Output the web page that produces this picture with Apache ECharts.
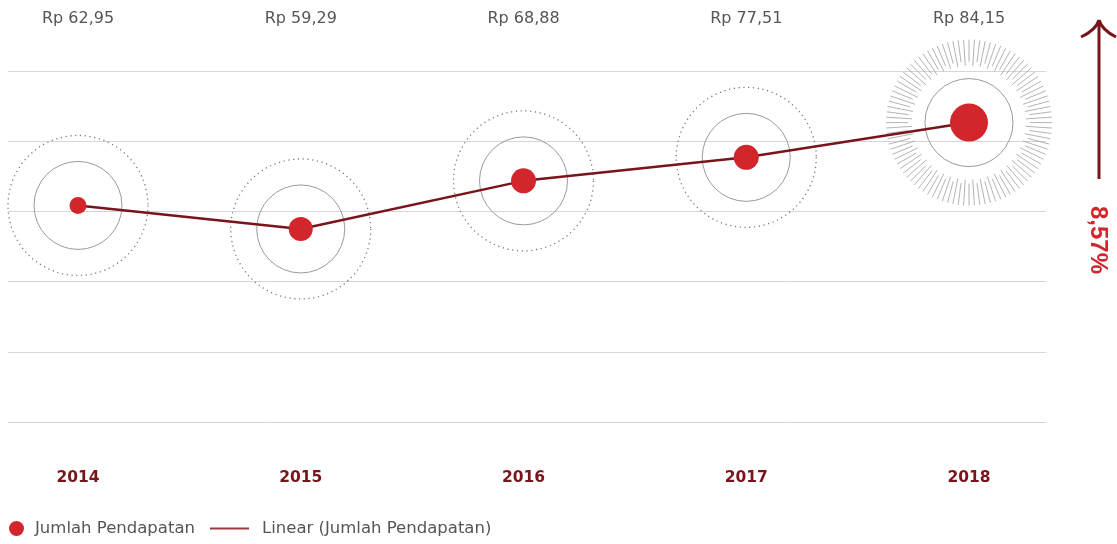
<!DOCTYPE html>
<html lang="id">

<head>
    <meta charset="UTF-8">
    <title>Jumlah Pendapatan</title>
    <style>
        html, body { margin: 0; padding: 0; background: #fff; }
        #main { width: 1117px; height: 544px; }
    </style>
</head>

<body>
    <div id="main"></div>

    <script src="https://cdn.jsdelivr.net/npm/echarts@6/dist/echarts.min.js"></script>
    <script>
        // data
        let years = ['2014', '2015', '2016', '2017', '2018'];
        let valueLabels = ['Rp 62,95', 'Rp 59,29', 'Rp 68,88', 'Rp 77,51', 'Rp 84,15'];
        // heights of the points as drawn (hidden 0-100 axis)
        let levels = [61.7, 55.0, 68.7, 75.4, 85.3];
        let dotSizes = [17, 24, 25, 25, 38];
        let growthLabel = '8,57%';

        let red = '#d3252c';
        let darkRed = '#7a141b';
        let textGray = '#555';

        let chart = echarts.init(document.getElementById('main'));

        // ring decoration around every point, sunburst on the last one
        function renderRings(params, api) {
            let idx = api.value(0);
            let c = api.coord([idx, api.value(1)]);
            let kids = [{
                type: 'circle',
                shape: { cx: c[0], cy: c[1], r: 44 },
                style: { fill: 'none', stroke: '#9a9a9a', lineWidth: 1 }
            }];
            if (idx < years.length - 1) {
                kids.push({
                    type: 'circle',
                    shape: { cx: c[0], cy: c[1], r: 70 },
                    style: { fill: 'none', stroke: '#777', lineWidth: 1.3, lineDash: [1.2, 3.6] }
                });
            } else {
                let n = 96;
                for (let k = 0; k < n; k++) {
                    let a = k / n * Math.PI * 2;
                    let r0 = k % 2 ? 57 : 61;
                    let r1 = 83;
                    kids.push({
                        type: 'line',
                        shape: {
                            x1: c[0] + Math.cos(a) * r0, y1: c[1] + Math.sin(a) * r0,
                            x2: c[0] + Math.cos(a) * r1, y2: c[1] + Math.sin(a) * r1
                        },
                        style: { stroke: '#a0a0a0', lineWidth: 0.8 }
                    });
                }
            }
            return { type: 'group', children: kids };
        }

        let option = {
            animation: false,
            grid: [
                { left: 8, right: 71, top: 71, bottom: 122, containLabel: false, outerBoundsMode: 'none' },
                { left: 78, right: 148, top: 71, bottom: 122, containLabel: false, outerBoundsMode: 'none' }
            ],
            xAxis: [
                { gridIndex: 0, type: 'value', min: 0, max: 1, show: false },
                {
                    gridIndex: 1, type: 'category', data: years, boundaryGap: false,
                    axisLine: { show: false }, axisTick: { show: false }, splitLine: { show: false },
                    axisLabel: {
                        margin: 48, color: darkRed, fontFamily: 'DejaVu Sans',
                        fontWeight: 'bold', fontSize: 15.5
                    }
                },
                {
                    gridIndex: 1, type: 'category', data: valueLabels, boundaryGap: false, position: 'top',
                    axisLine: { show: false }, axisTick: { show: false }, splitLine: { show: false },
                    axisLabel: { margin: 44, color: textGray, fontFamily: 'DejaVu Sans', fontSize: 16 }
                }
            ],
            yAxis: [
                {
                    gridIndex: 0, type: 'value', min: 0, max: 100, interval: 20,
                    axisLine: { show: false }, axisTick: { show: false }, axisLabel: { show: false },
                    splitLine: { lineStyle: { color: '#d6d6d6', width: 1 } }
                },
                { gridIndex: 1, type: 'value', min: 0, max: 100, show: false }
            ],
            legend: [
                {
                    data: [{ name: 'Jumlah Pendapatan', icon: 'circle' }],
                    left: 9, top: 520, padding: 0,
                    itemWidth: 15, itemHeight: 15,
                    textStyle: { color: textGray, fontFamily: 'DejaVu Sans', fontSize: 16.5, padding: [0, 0, 0, 6] }
                },
                {
                    data: [{ name: 'Linear (Jumlah Pendapatan)', icon: 'rect' }],
                    left: 210, top: 520, padding: 0,
                    itemWidth: 39, itemHeight: 2,
                    textStyle: { color: textGray, fontFamily: 'DejaVu Sans', fontSize: 16.5, padding: [0, 0, 0, 8] }
                }
            ],
            graphic: [
                // growth arrow on the right
                {
                    type: 'line', z: 10,
                    shape: { x1: 1099, y1: 21, x2: 1099, y2: 179 },
                    style: { stroke: darkRed, lineWidth: 3 }
                },
                {
                    type: 'bezierCurve', z: 10,
                    shape: { x1: 1081, y1: 37, cpx1: 1096, cpy1: 30, x2: 1099, y2: 20 },
                    style: { fill: 'none', stroke: darkRed, lineWidth: 3 }
                },
                {
                    type: 'bezierCurve', z: 10,
                    shape: { x1: 1116, y1: 37, cpx1: 1102, cpy1: 30, x2: 1099, y2: 20 },
                    style: { fill: 'none', stroke: darkRed, lineWidth: 3 }
                },
                {
                    type: 'text', z: 10,
                    x: 1098, y: 240, rotation: -Math.PI / 2,
                    style: {
                        text: growthLabel, fill: red, font: 'bold 24px "Liberation Sans"',
                        align: 'center', verticalAlign: 'middle'
                    }
                }
            ],
            series: [
                {
                    type: 'custom', name: 'rings', xAxisIndex: 1, yAxisIndex: 1, z: 1,
                    silent: true,
                    data: levels.map(function (v, i) { return [i, v]; }),
                    renderItem: renderRings
                },
                {
                    type: 'line', name: 'Linear (Jumlah Pendapatan)', xAxisIndex: 1, yAxisIndex: 1, z: 3,
                    data: levels, showSymbol: false, symbol: 'none',
                    lineStyle: { color: darkRed, width: 2.5 },
                    itemStyle: { color: '#9a3a40' }
                },
                {
                    type: 'scatter', name: 'Jumlah Pendapatan', xAxisIndex: 1, yAxisIndex: 1, z: 5,
                    data: levels,
                    symbolSize: function (v, p) { return dotSizes[p.dataIndex]; },
                    itemStyle: { color: red, opacity: 1 }
                }
            ]
        };
        chart.setOption(option);
    </script>
</body>

</html>
